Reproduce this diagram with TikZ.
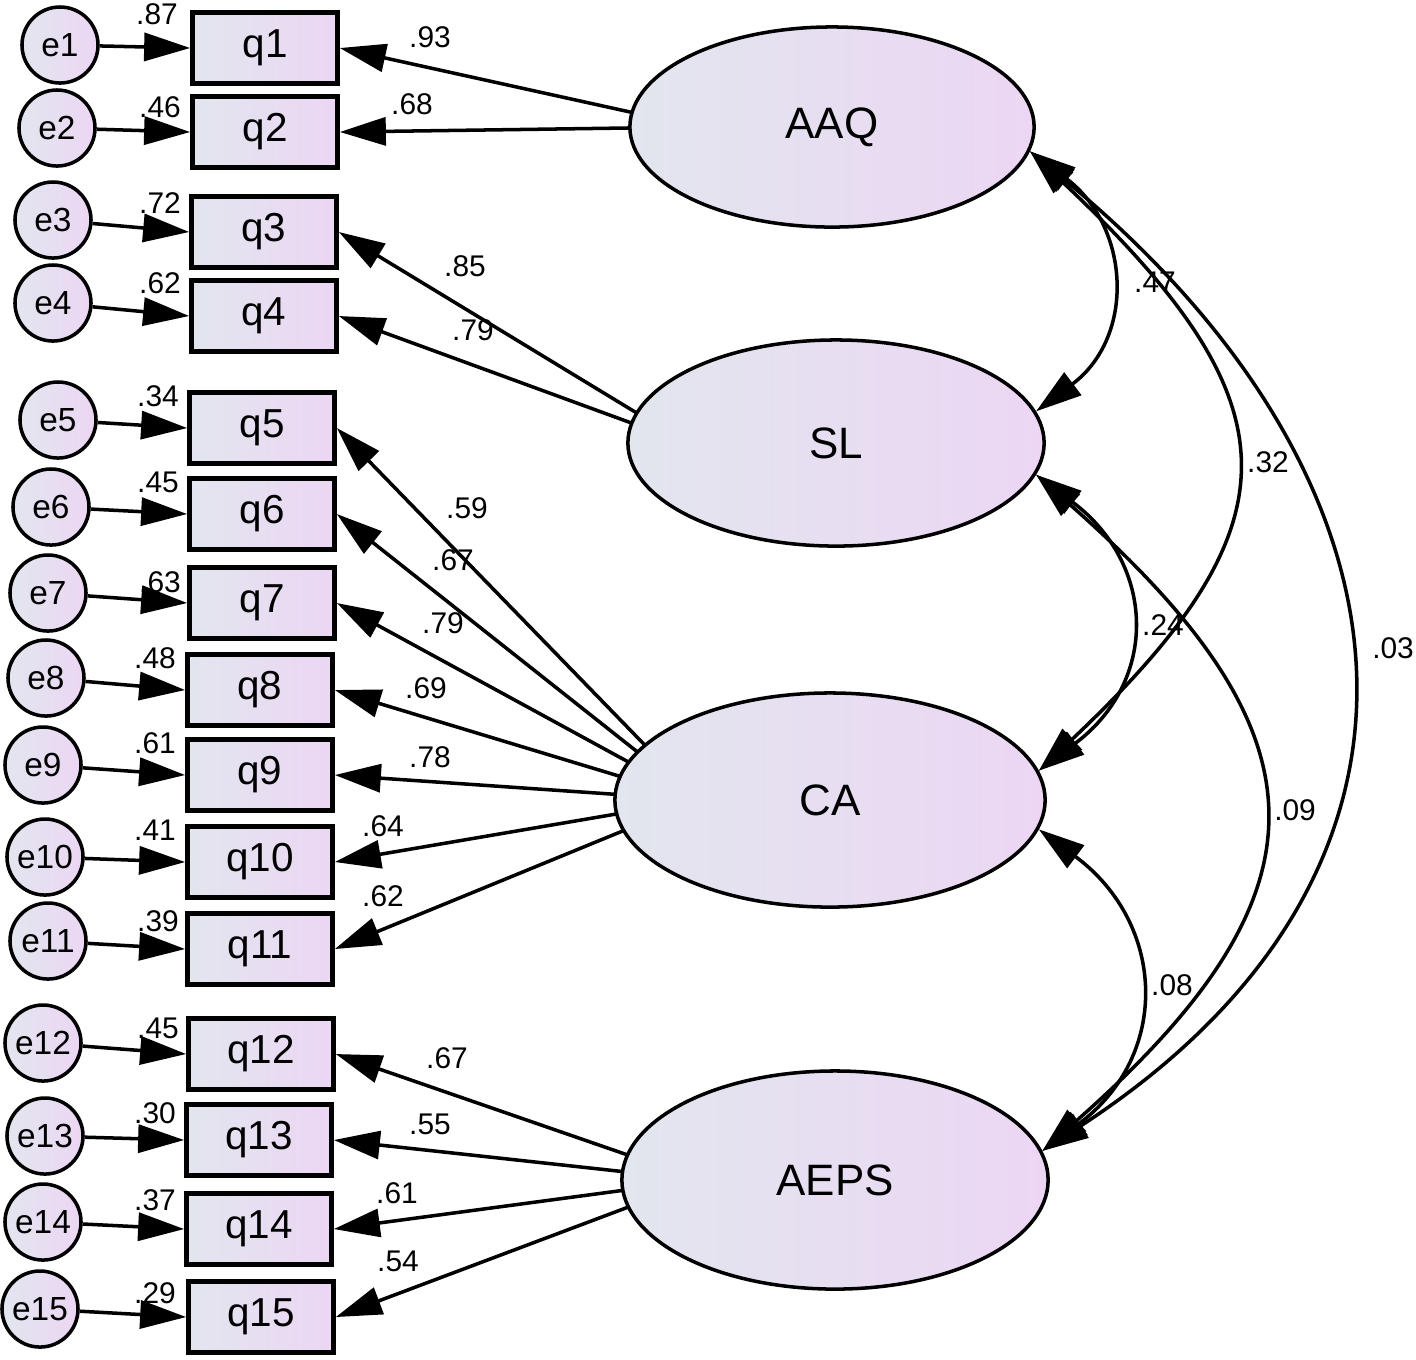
\documentclass[tikz,border=0pt]{standalone}
\usepackage{fontspec}
\setmainfont{Liberation Sans}
\usetikzlibrary{arrows.meta,shapes.geometric,positioning,backgrounds}
\definecolor{fillL}{RGB}{226,230,238}
\definecolor{fillR}{RGB}{236,214,244}
\tikzset{
    >={Triangle[length=4.6mm,width=2.8mm]},
    item/.style={
        rectangle,
        draw=black, line width=1.3pt,
        left color=fillL, right color=fillR,
        minimum width=1.45cm,
        minimum height=0.71cm,
        inner sep=0pt,
        font=\fontsize{11.5}{13}\selectfont
    },
    errc/.style={
        circle,
        draw=black, line width=1pt,
        left color=fillL, right color=fillR,
        minimum size=0.76cm,
        inner sep=0pt,
        font=\fontsize{9.5}{11}\selectfont
    },
    factor/.style={
        ellipse,
        draw=black, line width=1pt,
        left color=fillL, right color=fillR,
        inner sep=0pt,
        font=\fontsize{12.5}{14}\selectfont
    },
    arr/.style={draw, line width=1pt, ->},
    corr/.style={draw, line width=1pt, <->},
    coef/.style={inner sep=0pt, font=\fontsize{8.5}{10}\selectfont}
}
\begin{document}
\begin{tikzpicture}[x=0.01cm, y=0.01cm]
    \useasboundingbox (0,0) rectangle (1416,-1359);

    % latent factors
    \node[factor, minimum width=4.04cm, minimum height=2.0cm] (AAQ) at (832,-127) {AAQ};
    \node[factor, minimum width=4.16cm, minimum height=2.06cm] (SL) at (836,-443) {SL};
    \node[factor, minimum width=4.30cm, minimum height=2.14cm] (CA) at (830,-800) {CA};
    \node[factor, minimum width=4.26cm, minimum height=2.18cm] (AEPS) at (835,-1180) {AEPS};

    % points the loadings leave from (hidden under the fill)
    \coordinate (AAQh) at ([xshift=0.70cm]AAQ.west);
    \coordinate (SLh) at ([xshift=0.60cm]SL.west);
    \coordinate (CAh) at ([xshift=0.85cm]CA.west);
    \coordinate (AEPSh) at ([xshift=0.80cm]AEPS.west);

    % items and their error terms
    \foreach \n/\qx/\qy/\ex/\ey/\r/\rx/\ry in {
        1/265/48/60/45/.87/157/14,
        2/265/132/57/128/.46/160/107,
        3/264/232/53/220/.72/160/203,
        4/264/316/53/303/.62/160/283,
        5/262/428/58/420/.34/158/396,
        6/262/514/51/507/.45/158/482,
        7/262/603/48/593/.63/160/582,
        8/260/690/46/678/.48/155/658,
        9/260/775/43/765/.61/155/743,
        10/260/862/45/857/.41/155/830,
        11/260/949/48/941/.39/158/921,
        12/261/1054/43/1043/.45/158/1028,
        13/259/1140/45/1136/.30/155/1113,
        14/259/1229/43/1222/.37/155/1200,
        15/261/1317/40/1309/.29/155/1293}
    {
        \node[item] (q\n) at (\qx,-\qy) {q\n};
        \node[errc] (e\n) at (\ex,-\ey) {e\n};
        \draw[arr] (e\n) -- (q\n.west);
        \node[coef] (r\n) at (\rx,-\ry) {\r};
    }

    % loadings
    \begin{pgfonlayer}{background}
    \foreach \n/\f/\w/\lx/\ly in {
        1/AAQ/.93/430/37,
        2/AAQ/.68/412/104,
        3/SL/.85/465/266,
        4/SL/.79/473/330,
        5/CA/.59/467/508,
        6/CA/.67/453/560,
        7/CA/.79/443/623,
        8/CA/.69/426/688,
        9/CA/.78/430/757,
        10/CA/.64/383/826,
        11/CA/.62/383/896,
        12/AEPS/.67/447/1058,
        13/AEPS/.55/430/1124,
        14/AEPS/.61/397/1193,
        15/AEPS/.54/398/1261}
    {
        \draw[arr] (\f h) -- (q\n.east);
        \node[coef] (w\n) at (\lx,-\ly) {\w};
    }
    \end{pgfonlayer}

    % correlations
    \draw[corr] (AAQ.-7) .. controls +(100,-75) and +(100,75) .. (SL.9);
    \draw[corr] (AAQ.-7) .. controls +(265,-250) and +(265,250) .. (CA.8);
    \draw[corr] (AAQ.-7) .. controls +(400,-330) and +(430,280) .. (AEPS.8);
    \draw[corr] (SL.-9) .. controls +(120,-90) and +(120,90) .. (CA.8);
    \draw[corr] (SL.-9) .. controls +(295,-260) and +(295,260) .. (AEPS.8);
    \draw[corr] (CA.-8) .. controls +(128,-95) and +(128,95) .. (AEPS.8);

    \node[coef] (c1) at (1155,-282) {.47};
    \node[coef] (c2) at (1268,-462) {.32};
    \node[coef] (c3) at (1393,-648) {.03};
    \node[coef] (c4) at (1163,-625) {.24};
    \node[coef] (c5) at (1295,-810) {.09};
    \node[coef] (c6) at (1172,-985) {.08};
\end{tikzpicture}
\end{document}
